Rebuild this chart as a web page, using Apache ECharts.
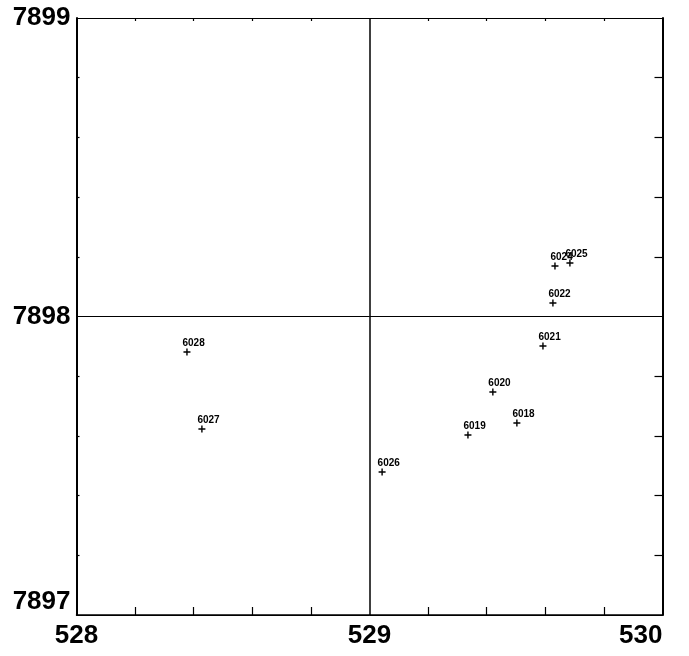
<!DOCTYPE html>
<html>
<head>
<meta charset="utf-8">
<script src="https://cdn.jsdelivr.net/npm/echarts@6/dist/echarts.min.js"></script>
<style>html,body{margin:0;padding:0;background:#fff}#c{width:689px;height:656px}</style>
</head>
<body>
<div id="c"></div>
<script>
const pointIds = ['6018','6019','6020','6021','6022','6024','6025','6026','6027','6028'];
const eastings = [529.503, 529.336, 529.421, 529.592, 529.626, 529.633, 529.684, 529.043, 528.428, 528.377];
const northings = [7897.643, 7897.603, 7897.747, 7897.901, 7898.045, 7898.169, 7898.179, 7897.479, 7897.623, 7897.881];
const xTickLabels = [528, 529, 530];
const yTickLabels = [7897, 7898, 7899];

const data = pointIds.map((id, i) => [eastings[i], northings[i], id]);
const chart = echarts.init(document.getElementById('c'), null, {renderer: 'canvas'});
const labelFont = {fontFamily: 'Liberation Sans', fontWeight: 'bold', fontSize: 26, color: '#000'};

function xAx(pos, show, len, w) {
  return {
    type: 'value', position: pos, min: xTickLabels[0], max: xTickLabels[xTickLabels.length-1], interval: 1,
    axisLine: {show: true, onZero: false, lineStyle: {color: '#000', width: w}},
    axisTick: {show: false, inside: true},
    minorTick: {show: true, splitNumber: 5, length: len, lineStyle: {color: '#000', width: 1.2}},
    splitLine: {show: show, lineStyle: {color: '#000', width: 1.5}},
    axisLabel: show ? Object.assign({show: true, margin: 8, alignMaxLabel: 'right', formatter: v => String(v)}, labelFont) : {show: false}
  };
}
function yAx(pos, show, len, w) {
  return {
    type: 'value', position: pos, min: yTickLabels[0], max: yTickLabels[yTickLabels.length-1], interval: 1,
    axisLine: {show: true, onZero: false, lineStyle: {color: '#000', width: w}},
    axisTick: {show: false, inside: true},
    minorTick: {show: true, splitNumber: 5, length: len, lineStyle: {color: '#000', width: 1.2}},
    splitLine: {show: show, lineStyle: {color: '#000', width: 1}},
    axisLabel: show ? Object.assign({show: true, margin: 6, verticalAlignMinLabel: 'bottom', formatter: v => String(v)}, labelFont) : {show: false}
  };
}

chart.setOption({
  animation: false,
  backgroundColor: '#fff',
  grid: {left: 76.5, right: 26.5, top: 18, bottom: 41},
  xAxis: [xAx('bottom', true, 8, 1.5), xAx('top', false, 3, 1)],
  yAxis: [yAx('left', true, 3, 2), yAx('right', false, 8, 2)],
  series: [{
    type: 'scatter',
    xAxisIndex: 0, yAxisIndex: 0,
    data: data,
    symbol: 'path://M-0.2,-1H0.2V-0.2H1V0.2H0.2V1H-0.2V0.2H-1V-0.2H-0.2Z',
    symbolSize: 7,
    itemStyle: {color: '#000', opacity: 1},
    label: {
      show: true,
      formatter: p => p.value[2],
      position: [-1, -5],
      align: 'left',
      verticalAlign: 'middle',
      fontFamily: 'Liberation Sans',
      fontWeight: 'bold',
      fontSize: 10,
      color: '#000'
    }
  }]
});
</script>
</body>
</html>
